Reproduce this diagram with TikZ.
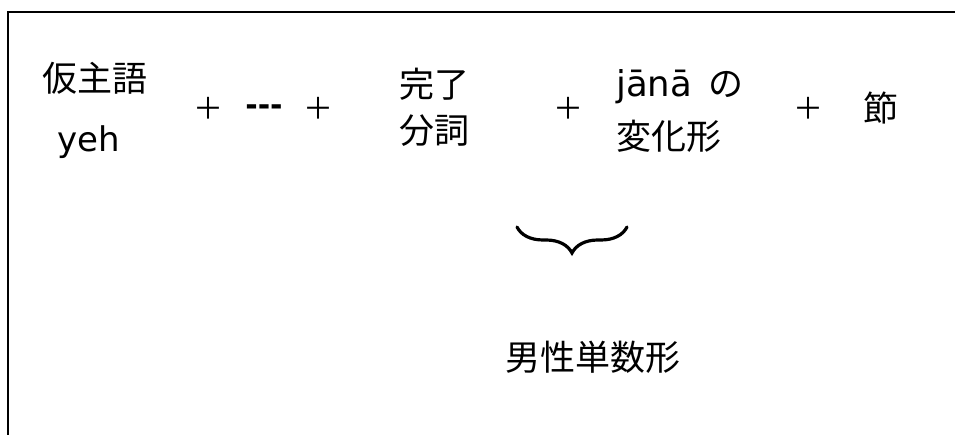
\documentclass[tikz,border=0pt]{standalone}
\usepackage{fontspec}
\setmainfont{DejaVu Sans}
\newfontfamily\cjk{Noto Sans CJK JP}
\usetikzlibrary{decorations.pathreplacing}
\tikzset{
  jp/.style={inner sep=0pt, font=\cjk\fontsize{35}{47}\selectfont},
  lat/.style={inner sep=0pt, font=\fontsize{34}{40}\selectfont},
  plus/.style={inner sep=0pt, font=\cjk\fontsize{30}{40}\selectfont},
  frame/.style={line width=2pt, black},
  bracestyle/.style={line width=3.2pt, line cap=round, decorate, decoration={brace, mirror, amplitude=26pt}}
}
\begin{document}
\begin{tikzpicture}[x=1pt,y=1pt]
\useasboundingbox (0,0) rectangle (955,435);
\draw[frame] (8,-5) -- (8,423) -- (960,423);
% terms
\node[jp] (kashugo) at (95,357) {仮主語};
\node[lat, anchor=base west] (yeh) at (57,283) {yeh};
\node[plus] (p1) at (208,327) {＋};
\node[inner sep=0pt, font=\bfseries\fontsize{30}{34}\selectfont, anchor=base] (dots) at (264,319) {-{}-{}-};
\node[plus] (p2) at (318,327) {＋};
\node[jp, anchor=west] (kanryo) at (399,351) {完了};
\node[jp, anchor=west] (bunshi) at (399,304) {分詞};
\node[plus] (p3) at (568,327) {＋};
\node[lat, anchor=base west, font=\fontsize{35.5}{40}\selectfont] (jana) at (616,338) {jānā};
\node[jp, anchor=base west] (no) at (708,338) {の};
\node[jp, anchor=west] (henka) at (616,299) {変化形};
\node[plus] (p4) at (808,327) {＋};
\node[jp] (setsu) at (881,327) {節};
% brace
\coordinate (bl) at (517,208);
\coordinate (br) at (627,208);
\draw[bracestyle] (bl) -- (br);
\node[jp] (danseitansu) at (593,78) {男性単数形};
\end{tikzpicture}
\end{document}
